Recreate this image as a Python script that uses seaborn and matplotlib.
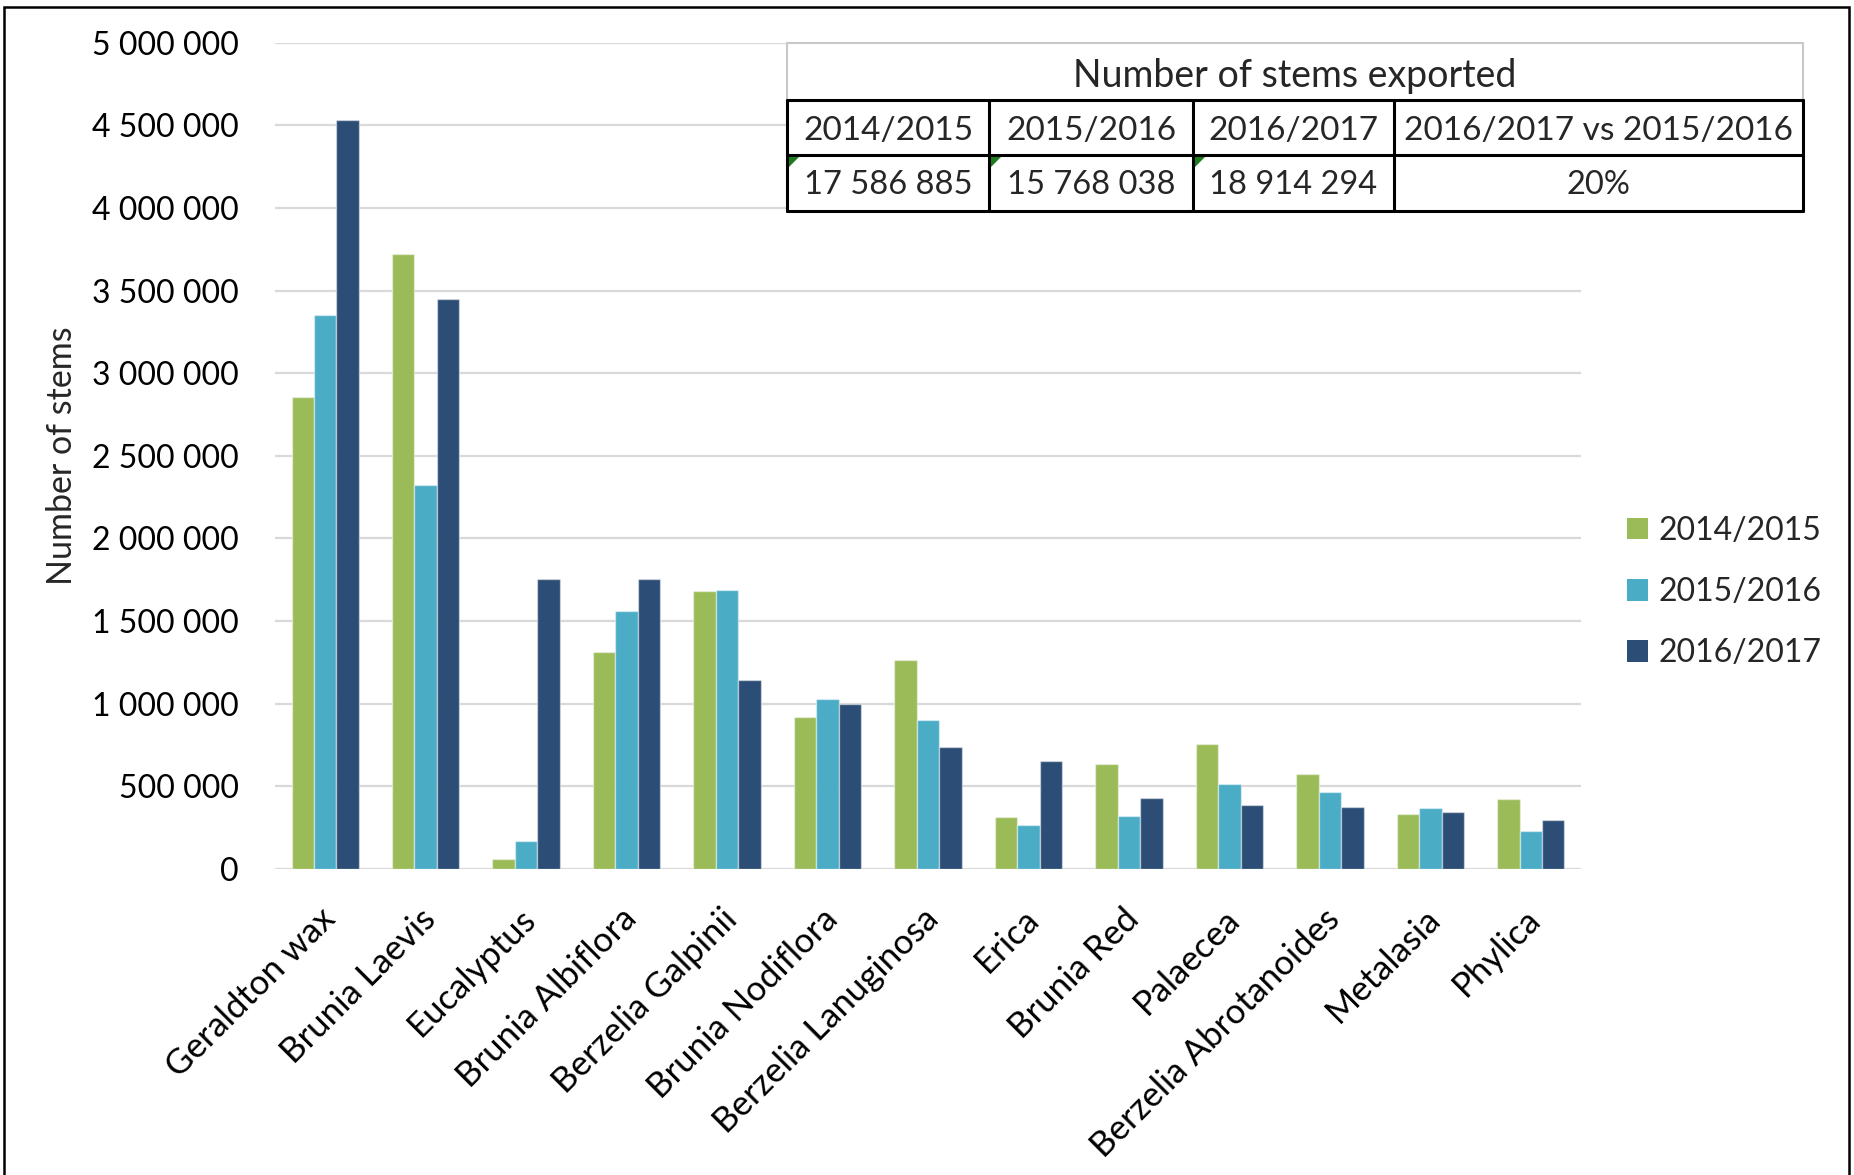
import matplotlib
matplotlib.use("Agg")
import matplotlib.pyplot as plt
import matplotlib.transforms as mtransforms
from matplotlib.patches import Rectangle, Patch, Polygon
from matplotlib.lines import Line2D
from matplotlib.ticker import FuncFormatter, MultipleLocator
import seaborn as sns
import pandas as pd

# ---------------- data ----------------
categories = ["Geraldton wax", "Brunia Laevis", "Eucalyptus", "Brunia Albiflora",
              "Berzelia Galpinii", "Brunia Nodiflora", "Berzelia Lanuginosa", "Erica",
              "Brunia Red", "Palaecea", "Berzelia Abrotanoides", "Metalasia", "Phylica"]
seasons = ["2014/2015", "2015/2016", "2016/2017"]
stems_2014_2015 = [2857000, 3723000, 60000, 1312000, 1683000, 921000, 1262000,
                   312000, 635000, 756000, 577000, 331000, 423000]
stems_2015_2016 = [3353000, 2324000, 172000, 1559000, 1687000, 1028000, 903000,
                   268000, 323000, 516000, 464000, 371000, 230000]
stems_2016_2017 = [4530000, 3449000, 1752000, 1752000, 1143000, 1000000, 738000,
                   653000, 427000, 385000, 373000, 343000, 296000]
season_colors = ["#9BBB59", "#4BACC6", "#2C4D75"]

table_title = "Number of stems exported"
table_headers = ["2014/2015", "2015/2016", "2016/2017", "2016/2017 vs 2015/2016"]
table_values = ["17 586 885", "15 768 038", "18 914 294", "20%"]

y_label = "Number of stems"

# ---------------- frame ----------------
df = pd.DataFrame({
    "category": categories * 3,
    "season": [seasons[0]] * len(categories) + [seasons[1]] * len(categories) + [seasons[2]] * len(categories),
    "stems": stems_2014_2015 + stems_2015_2016 + stems_2016_2017,
})

sns.set_theme(style="white")
plt.rcParams["font.family"] = ["Lato", "DejaVu Sans"]
FS = 23

W, H = 1854, 1175
fig = plt.figure(figsize=(W / 100, H / 100), dpi=100)
fig.patch.set_facecolor("white")

ax_l, ax_r, ax_t, ax_b = 275, 1581, 42.7, 869
ax = fig.add_axes([ax_l / W, 1 - ax_b / H, (ax_r - ax_l) / W, (ax_b - ax_t) / H])

sns.barplot(data=df, x="category", y="stems", hue="season", hue_order=seasons,
            palette=season_colors, width=0.67, gap=0, ax=ax, legend=False,
            edgecolor=(1, 1, 1, 0.45), linewidth=1.0, errorbar=None, saturation=1)

ax.set_ylim(0, 5_000_000)
ax.set_xlim(-0.5, len(categories) - 0.5)
ax.yaxis.set_major_locator(MultipleLocator(500_000))
ax.yaxis.set_major_formatter(FuncFormatter(lambda v, p: f"{int(round(v)):,}".replace(",", " ")))
ax.grid(axis="y", color="#D9D9D9", linewidth=1.6, zorder=0)
ax.set_axisbelow(True)
for s in ax.spines.values():
    s.set_visible(False)
ax.tick_params(axis="y", length=0, pad=36 * 0.72, labelsize=FS, colors="black")
ax.tick_params(axis="x", length=0, pad=52 * 0.72, labelsize=25, colors="black")
ax.set_xlabel("")
ax.set_ylabel("")

ax.set_xticks(range(len(categories)))
ax.set_xticklabels(categories, rotation=45, ha="right", va="baseline", rotation_mode="anchor")
offset = mtransforms.ScaledTranslation(12 / 100, 0, fig.dpi_scale_trans)
for lbl in ax.get_xticklabels():
    lbl.set_transform(lbl.get_transform() + offset)

fig.text(62 / W, 1 - 456 / H, y_label, rotation=90, ha="center", va="center", fontsize=24.5)

# legend
handles = [Patch(facecolor=c, edgecolor="none") for c in season_colors]
fig.legend(handles, seasons, loc="center left",
           bbox_to_anchor=(1627 / W, 1 - 592 / H), bbox_transform=fig.transFigure,
           frameon=False, fontsize=FS, handlelength=0.66, handleheight=0.66,
           handletextpad=0.32, labelspacing=0.98, borderpad=0, borderaxespad=0)

# ---------------- table (figure pixel coordinates) ----------------
def fx(x):
    return x / W

def fy(y):
    return 1 - y / H

cols = [787, 989, 1193, 1394, 1803]
rows = [43, 100, 155, 211]

fig.add_artist(Rectangle((fx(cols[0]), fy(rows[-1])), fx(cols[-1]) - fx(cols[0]),
                         fy(rows[0]) - fy(rows[-1]), transform=fig.transFigure,
                         facecolor="white", edgecolor="none", zorder=5))
# top row light border
for (x0, y0, x1, y1) in [(cols[0], rows[0], cols[-1], rows[0]),
                         (cols[0], rows[0], cols[0], rows[1]),
                         (cols[-1], rows[0], cols[-1], rows[1])]:
    fig.add_artist(Line2D([fx(x0), fx(x1)], [fy(y0), fy(y1)], transform=fig.transFigure,
                          color="#C8C8C8", linewidth=1.5, zorder=6))
# black grid for lower rows
for y in rows[1:]:
    fig.add_artist(Line2D([fx(cols[0]), fx(cols[-1])], [fy(y), fy(y)], transform=fig.transFigure,
                          color="black", linewidth=2.2, zorder=7))
for x in cols:
    fig.add_artist(Line2D([fx(x), fx(x)], [fy(rows[1]), fy(rows[-1])], transform=fig.transFigure,
                          color="black", linewidth=2.2, zorder=7))

fig.text(fx((cols[0] + cols[-1]) / 2), fy(76), table_title,
         ha="center", va="center", fontsize=27, zorder=8)
for i, h in enumerate(table_headers):
    fig.text(fx((cols[i] + cols[i + 1]) / 2), fy(131), h,
             ha="center", va="center", fontsize=24, zorder=8)
for i, v in enumerate(table_values):
    fig.text(fx((cols[i] + cols[i + 1]) / 2), fy(185), v,
             ha="center", va="center", fontsize=23.5, zorder=8)
    if i < 3:
        x0, y0 = cols[i] + 2, rows[2] + 2
        fig.add_artist(Polygon([[fx(x0), fy(y0)], [fx(x0 + 10), fy(y0)], [fx(x0), fy(y0 + 10)]],
                               closed=True, transform=fig.transFigure,
                               facecolor="#1E7B1E", edgecolor="none", zorder=9))

# outer chart border
fig.add_artist(Rectangle((fx(4), fy(1185)), fx(1849) - fx(4), fy(7) - fy(1185),
                         transform=fig.transFigure, facecolor="none", edgecolor="black",
                         linewidth=1.8, zorder=10))

fig.savefig("out.png", dpi=100, facecolor="white")
